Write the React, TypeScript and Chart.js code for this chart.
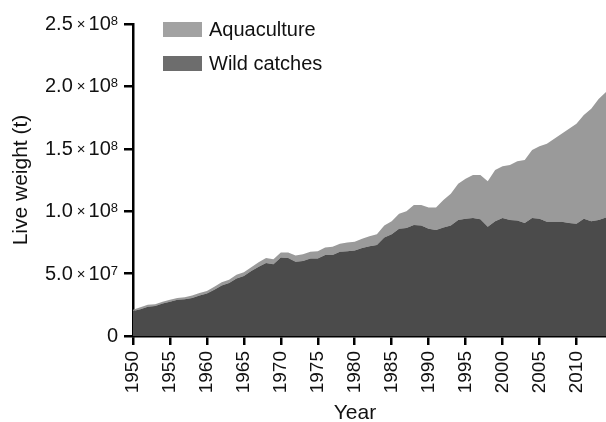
import React, { useEffect, useRef } from "react";
import { Chart, registerables } from "chart.js";

Chart.register(...registerables);

const years = [
  1950, 1951, 1952, 1953, 1954, 1955, 1956, 1957, 1958, 1959,
  1960, 1961, 1962, 1963, 1964, 1965, 1966, 1967, 1968, 1969,
  1970, 1971, 1972, 1973, 1974, 1975, 1976, 1977, 1978, 1979,
  1980, 1981, 1982, 1983, 1984, 1985, 1986, 1987, 1988, 1989,
  1990, 1991, 1992, 1993, 1994, 1995, 1996, 1997, 1998, 1999,
  2000, 2001, 2002, 2003, 2004, 2005, 2006, 2007, 2008, 2009,
  2010, 2011, 2012, 2013, 2014,
];

// million tonnes, live weight
const wildCatchesMt = [
  20, 21.5, 23.5, 24, 26, 27.5, 29, 29.5, 30.5, 32.5,
  34, 37, 40.5, 42.5, 46, 48, 52, 55.5, 58.5, 57.5,
  63, 62.5, 59.5, 60, 62, 62, 65, 65, 67.5, 68,
  68.5, 70.5, 72, 73, 79, 81.5, 86, 86.5, 89, 88.5,
  86, 85, 87, 88.5, 93, 94, 94.5, 93.5, 87.5, 92,
  94.5, 93, 92.5, 90.5, 94.5, 94, 91.5, 91.5, 91.5, 90.5,
  90, 94, 92, 93, 95,
];

const aquacultureMt = [
  1, 1.5, 1.5, 1.5, 1.5, 1.5, 1.5, 1.5, 2, 2,
  2, 2.5, 2.5, 2.5, 3, 3, 3, 3.5, 4, 4,
  4, 4.5, 5, 5.5, 5.5, 6, 6, 6.5, 6.5, 7,
  7, 7.5, 8, 8.5, 9.5, 10.5, 12, 13.5, 16, 16.5,
  17, 18, 22, 25.5, 29, 32, 34.5, 35.5, 36.5, 41,
  41.5, 44, 47.5, 50.5, 54.5, 58, 62.5, 66.5, 70.5, 75.5,
  80, 83, 90, 97, 100.5,
];

const xTickYears = [1950, 1955, 1960, 1965, 1970, 1975, 1980, 1985, 1990, 1995, 2000, 2005, 2010];
const yTickValues = [0, 5e7, 1e8, 1.5e8, 2e8, 2.5e8];

const seriesLabels = { wild: "Wild catches", aqua: "Aquaculture" };
const axisTitles = { x: "Year", y: "Live weight (t)" };

const FONT = '"Liberation Sans", Arial, Helvetica, sans-serif';
const TEXT = "#111";

function sciParts(v: number): { mant: string; exp: string } | null {
  if (v === 0) return null;
  const exp = Math.floor(Math.log10(v) + 1e-9);
  const mant = v / Math.pow(10, exp);
  return { mant: mant.toFixed(1), exp: String(exp) };
}

const overlayPlugin = {
  id: "overlay",
  afterDraw(chart: any) {
    const ctx = chart.ctx as CanvasRenderingContext2D;
    ctx.save();

    // y tick labels with superscript exponents
    const yScale = chart.scales.y;
    const right = yScale.right - 15;
    ctx.fillStyle = TEXT;
    ctx.textBaseline = "alphabetic";
    ctx.textAlign = "left";
    yTickValues.forEach((v) => {
      const py = yScale.getPixelForValue(v);
      const base = py + 6;
      const parts = sciParts(v);
      const mainFont = `20px ${FONT}`;
      const supFont = `13px ${FONT}`;
      const timesFont = `15px ${FONT}`;
      if (!parts) {
        ctx.font = mainFont;
        const w = ctx.measureText("0").width;
        ctx.fillText("0", right - w, base);
        return;
      }
      ctx.font = supFont;
      const wSup = ctx.measureText(parts.exp).width;
      ctx.font = mainFont;
      const wTen = ctx.measureText("10").width;
      const wMant = ctx.measureText(parts.mant).width;
      ctx.font = timesFont;
      const wTimes = ctx.measureText("\u00d7").width;
      let x = right - wSup;
      ctx.font = supFont;
      ctx.fillText(parts.exp, x, py + 1);
      x -= wTen;
      ctx.font = mainFont;
      ctx.fillText("10", x, base);
      x -= 3 + wTimes;
      ctx.font = timesFont;
      ctx.fillText("\u00d7", x, base - 1);
      x -= 4 + wMant;
      ctx.font = mainFont;
      ctx.fillText(parts.mant, x, base);
    });

    // legend inside plot area
    const items = [
      { label: chart.data.datasets[1].label, color: "#a2a2a2" },
      { label: chart.data.datasets[0].label, color: "#6d6d6d" },
    ];
    items.forEach((it, i) => {
      const y = 22 + i * 34;
      ctx.fillStyle = it.color;
      ctx.fillRect(163, y, 39, 15);
      ctx.fillStyle = TEXT;
      ctx.font = `20px ${FONT}`;
      ctx.textAlign = "left";
      ctx.textBaseline = "middle";
      ctx.fillText(it.label, 209, y + 8);
    });

    // x-axis title
    ctx.font = `21px ${FONT}`;
    ctx.textAlign = "center";
    ctx.textBaseline = "alphabetic";
    ctx.fillStyle = TEXT;
    ctx.fillText(axisTitles.x, 355, 419);
    ctx.restore();
  },
};

export default function App() {
  const canvasRef = useRef<HTMLCanvasElement | null>(null);

  useEffect(() => {
    if (!canvasRef.current) return;
    const wildData = years.map((yr, i) => ({ x: yr, y: wildCatchesMt[i] * 1e6 }));
    const aquaData = years.map((yr, i) => ({ x: yr, y: aquacultureMt[i] * 1e6 }));

    const chart = new Chart(canvasRef.current, {
      type: "line",
      data: {
        datasets: [
          {
            label: seriesLabels.wild,
            data: wildData,
            fill: "origin",
            backgroundColor: "#4b4b4b",
            borderColor: "rgba(0,0,0,0)",
            borderWidth: 0,
            pointRadius: 0,
            tension: 0,
          },
          {
            label: seriesLabels.aqua,
            data: aquaData,
            fill: "-1",
            backgroundColor: "#9a9a9a",
            borderColor: "rgba(0,0,0,0)",
            borderWidth: 0,
            pointRadius: 0,
            tension: 0,
          },
        ],
      },
      options: {
        animation: false,
        responsive: true,
        maintainAspectRatio: false,
        layout: { padding: { top: 24, right: 0, bottom: 0, left: 0 } },
        plugins: {
          legend: { display: false },
          tooltip: { enabled: false },
        },
        scales: {
          x: {
            type: "linear",
            min: 1950,
            max: 2014,
            z: 1,
            afterBuildTicks: (scale: any) => {
              scale.ticks = xTickYears.map((v) => ({ value: v }));
            },
            afterFit: (scale: any) => {
              scale.height = 86;
              scale.paddingLeft = 0;
              scale.paddingRight = 0;
            },
            ticks: {
              autoSkip: false,
              minRotation: 90,
              maxRotation: 90,
              padding: 6,
              color: TEXT,
              font: { family: FONT, size: 19 },
              callback: (v: any) => String(v),
            },
            grid: {
              display: true,
              drawOnChartArea: false,
              drawTicks: true,
              tickLength: 9,
              color: "#000",
              lineWidth: 2.5,
            },
            border: { display: true, color: "#000", width: 2.5 },
          },
          y: {
            type: "linear",
            stacked: true,
            min: 0,
            max: 2.5e8,
            z: 1,
            afterBuildTicks: (scale: any) => {
              scale.ticks = yTickValues.map((v) => ({ value: v }));
            },
            afterFit: (scale: any) => {
              scale.width = 133;
            },
            ticks: {
              display: false,
            },
            grid: {
              display: true,
              drawOnChartArea: false,
              drawTicks: true,
              tickLength: 9,
              color: "#000",
              lineWidth: 2.5,
            },
            border: { display: true, color: "#000", width: 2.5 },
            title: {
              display: true,
              text: axisTitles.y,
              color: TEXT,
              font: { family: FONT, size: 21 },
              padding: { top: 9, bottom: 0 },
            },
          },
        },
      },
      plugins: [overlayPlugin],
    } as any);

    return () => chart.destroy();
  }, []);

  return (
    <div style={{ position: "absolute", left: 0, top: 0, width: 606, height: 422, background: "#fff" }}>
      <canvas ref={canvasRef} />
    </div>
  );
}
